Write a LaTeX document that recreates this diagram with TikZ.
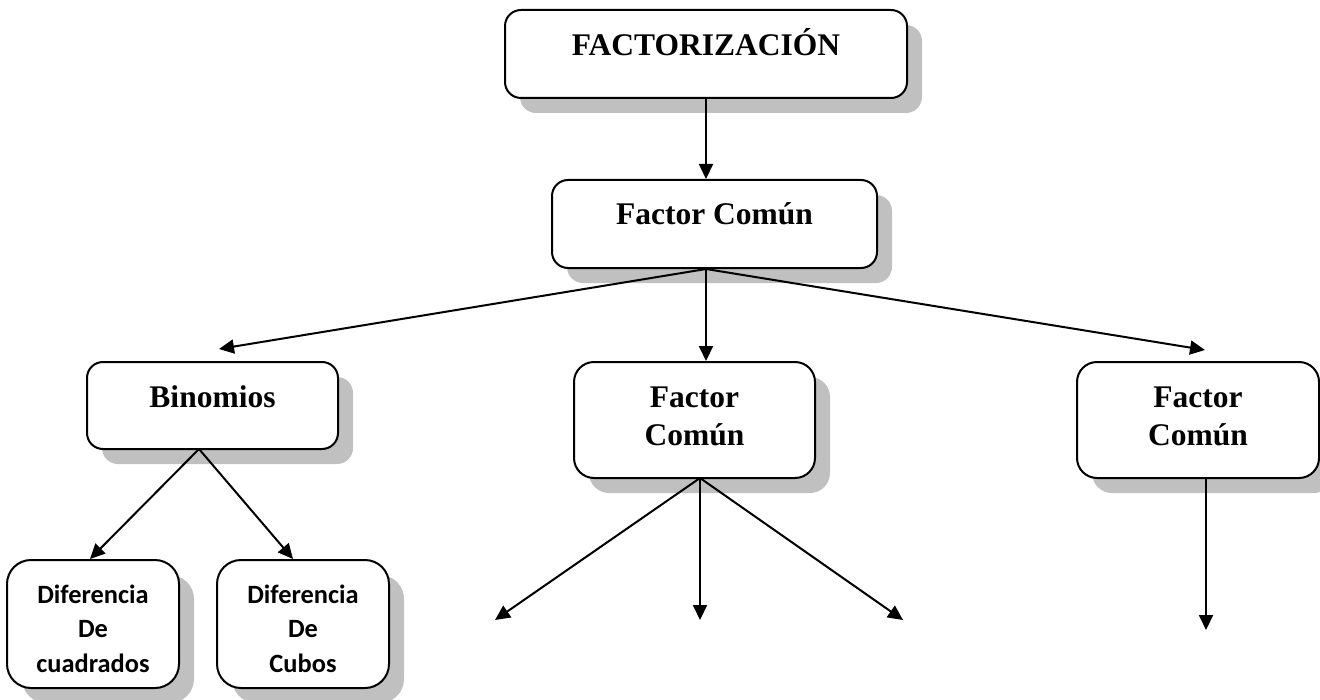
\documentclass[tikz,border=0pt]{standalone}
\usepackage{fontspec}
\setmainfont{Liberation Serif}
\newfontfamily\calfont{Carlito}
\usetikzlibrary{shadows,arrows.meta}
\definecolor{shadowgray}{RGB}{192,192,192}
\tikzset{
  box/.style={draw=black, line width=1pt, fill=white, rounded corners=8pt, inner sep=0pt,
    drop shadow={shadow xshift=7.5pt, shadow yshift=-7.5pt, fill=shadowgray, opacity=1},
    font=\fontsize{15.75}{19}\selectfont\bfseries, align=center},
  dbox/.style={box, rounded corners=12pt, font=\calfont\fontsize{13.2}{17.25}\selectfont\bfseries,
    minimum width=86pt, minimum height=64pt, text height=52pt, text depth=4pt},
  arr/.style={line width=1pt, -{Triangle[length=7.5pt,width=7pt]}},
}
\begin{document}
\begin{tikzpicture}[x=0.5pt,y=-0.5pt]
\useasboundingbox (0,0) rectangle (1320,700);
% boxes
\node[box, minimum width=201pt, minimum height=44pt, text height=11pt, text depth=9pt] (top) at (706,54) {FACTORIZACIÓN};
\node[box, minimum width=162.5pt, minimum height=44pt, text height=10pt, text depth=10pt] (fc) at (714.5,224) {Factor Común};
\node[box, minimum width=125.5pt, minimum height=43.5pt, text height=10.75pt, text depth=9.25pt] (bin) at (212.5,405.5) {Binomios};
\node[box, rounded corners=10pt, minimum width=120.5pt, minimum height=58pt, text height=30pt, text depth=5pt] (mid) at (694.5,420) {Factor\\Común};
\node[box, rounded corners=10pt, minimum width=121pt, minimum height=58pt, text height=30pt, text depth=5pt] (rc) at (1198,420) {Factor\\Común};
\node[dbox] (d1) at (93,624) {Diferencia\\De\\cuadrados};
\node[dbox] (d2) at (303,624) {Diferencia\\De\\Cubos};
% connector points
\coordinate (fcs) at (fc.south -| top.south);
\coordinate (t1) at (219,349);
\coordinate (t3) at (1205,350);
\coordinate (bs) at (199,449);
\coordinate (ms) at (700,478);
\coordinate (m1) at (495,620);
\coordinate (m2) at (700,620);
\coordinate (m3) at (903,620);
\coordinate (rs) at (1206,478);
\coordinate (r1) at (1206,630);
% connectors
\draw[arr] (top.south) -- (top.south |- fc.north);
\draw[arr] (fcs) -- (t1);
\draw[arr] (fcs) -- (mid.north -| fcs);
\draw[arr] (fcs) -- (t3);
\draw[arr] (bs) -- (d1.north -| 90,0);
\draw[arr] (bs) -- (d2.north -| 293,0);
\draw[arr] (ms) -- (m1);
\draw[arr] (ms) -- (m2);
\draw[arr] (ms) -- (m3);
\draw[arr] (rs) -- (r1);
\end{tikzpicture}
\end{document}
